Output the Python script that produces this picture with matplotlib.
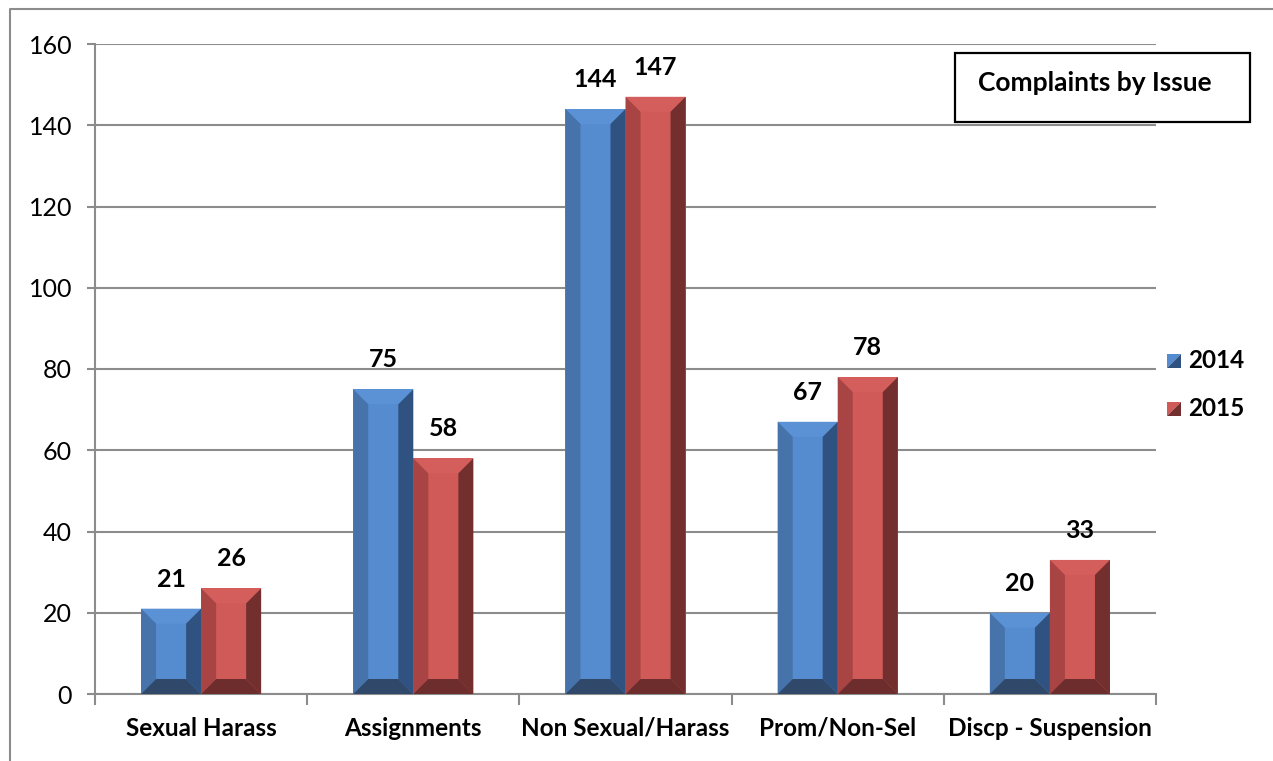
import matplotlib.pyplot as plt
from matplotlib.patches import Polygon, Rectangle
from matplotlib.lines import Line2D

# data
issues = ['Sexual Harass', 'Assignments', 'Non Sexual/Harass', 'Prom/Non-Sel', 'Discp - Suspension']
years = ['2014', '2015']
vals_2014 = [21, 75, 144, 67, 20]
vals_2015 = [26, 58, 147, 78, 33]
yticks = [0, 20, 40, 60, 80, 100, 120, 140, 160]

plt.rcParams['font.family'] = ['Lato', 'DejaVu Sans']

# bevel shades: face, top, left, right, bottom
blue = dict(face='#558bcf', top='#5b92d5', left='#4673aa', right='#2f5281', bottom='#30496b')
red = dict(face='#cf5a58', top='#d35e5c', left='#a84443', right='#732f2e', bottom='#6d2d2c')

fig = plt.figure(figsize=(12.73, 7.61), dpi=100)
ax = fig.add_axes([95 / 1273, 67 / 761, 1061 / 1273, 650 / 761])

W = fig.get_figwidth() * fig.dpi
H = fig.get_figheight() * fig.dpi


def bevel_bar(ax, x0, w, h, c, bev_px=15):
    # bevel size in data units from the axes scale
    bx = bev_px / (ax.get_position().width * W) * (ax.get_xlim()[1] - ax.get_xlim()[0])
    by = bev_px / (ax.get_position().height * H) * (ax.get_ylim()[1] - ax.get_ylim()[0])
    x1 = x0 + w
    ix0, ix1 = x0 + bx, x1 - bx
    iy0, iy1 = by, h - by
    ax.add_patch(Polygon([(x0, h), (x1, h), (ix1, iy1), (ix0, iy1)], closed=True, fc=c['top'], ec='none', zorder=3))
    ax.add_patch(Polygon([(x0, 0), (x0, h), (ix0, iy1), (ix0, iy0)], closed=True, fc=c['left'], ec='none', zorder=3))
    ax.add_patch(Polygon([(x1, 0), (x1, h), (ix1, iy1), (ix1, iy0)], closed=True, fc=c['right'], ec='none', zorder=3))
    ax.add_patch(Polygon([(x0, 0), (x1, 0), (ix1, iy0), (ix0, iy0)], closed=True, fc=c['bottom'], ec='none', zorder=3))


ax.set_xlim(-0.5, len(issues) - 0.5)
ax.set_ylim(0, 160)

bw = 0.283
xs = list(range(len(issues)))
b1 = ax.bar([x - bw / 2 for x in xs], vals_2014, width=bw, color=blue['face'], zorder=2)
b2 = ax.bar([x + bw / 2 for x in xs], vals_2015, width=bw, color=red['face'], zorder=2)

for bars, c in [(b1, blue), (b2, red)]:
    for p in bars:
        bevel_bar(ax, p.get_x(), p.get_width(), p.get_height(), c)
        ax.annotate(f'{int(p.get_height())}', (p.get_x() + p.get_width() / 2, p.get_height()),
                    xytext=(0, 13), textcoords='offset points', ha='center', va='bottom',
                    fontsize=18, fontweight='bold', zorder=5)

# axes styling
ax.set_yticks(yticks)
ax.set_yticklabels([str(t) for t in yticks], fontsize=18)
ax.yaxis.grid(True, color='#8c8c8c', lw=1.5, zorder=0)
ax.set_axisbelow(True)
for s in ['top', 'right']:
    ax.spines[s].set_visible(False)
for s in ['left', 'bottom']:
    ax.spines[s].set_color('#8c8c8c')
    ax.spines[s].set_linewidth(1.5)
ax.tick_params(axis='y', length=6, width=1.5, color='#8c8c8c', pad=10.5)
ax.set_xticks([x - 0.5 for x in xs] + [len(issues) - 0.5])
ax.set_xticklabels([])
ax.tick_params(axis='x', length=8, width=1.5, color='#8c8c8c')
for x, name in zip(xs, issues):
    ax.text(x, -8.4, name, ha='center', va='center', fontsize=17.5, fontweight='bold')

# title box
fig.patches.append(Rectangle((955 / W, 1 - 122 / H), 295 / W, 69 / H, transform=fig.transFigure,
                             fill=False, ec='black', lw=1.6))
fig.text(1095 / W, 1 - 83 / H, 'Complaints by Issue', ha='center', va='center',
         fontsize=19, fontweight='bold')

# legend with split swatches
for i, (yr, c) in enumerate(zip(years, [blue, red])):
    cy = 361 + i * 48
    x0, x1 = 1167 / W, 1181 / W
    y0, y1 = 1 - (cy + 7) / H, 1 - (cy - 7) / H
    fig.patches.append(Polygon([(x0, y0), (x0, y1), (x1, y1)], closed=True, transform=fig.transFigure,
                               fc=c['face'], ec='none'))
    fig.patches.append(Polygon([(x0, y0), (x1, y0), (x1, y1)], closed=True, transform=fig.transFigure,
                               fc=c['right'], ec='none'))
    fig.text(1188 / W, 1 - cy / H, yr, ha='left', va='center', fontsize=17.5, fontweight='bold')

# outer chart border (left and top visible)
fig.lines.append(Line2D([10 / W, 10 / W, 1], [0, 1 - 9 / H, 1 - 9 / H], transform=fig.transFigure,
                        color='#8c8c8c', lw=1.5))

fig.savefig('out.png', dpi=100)
